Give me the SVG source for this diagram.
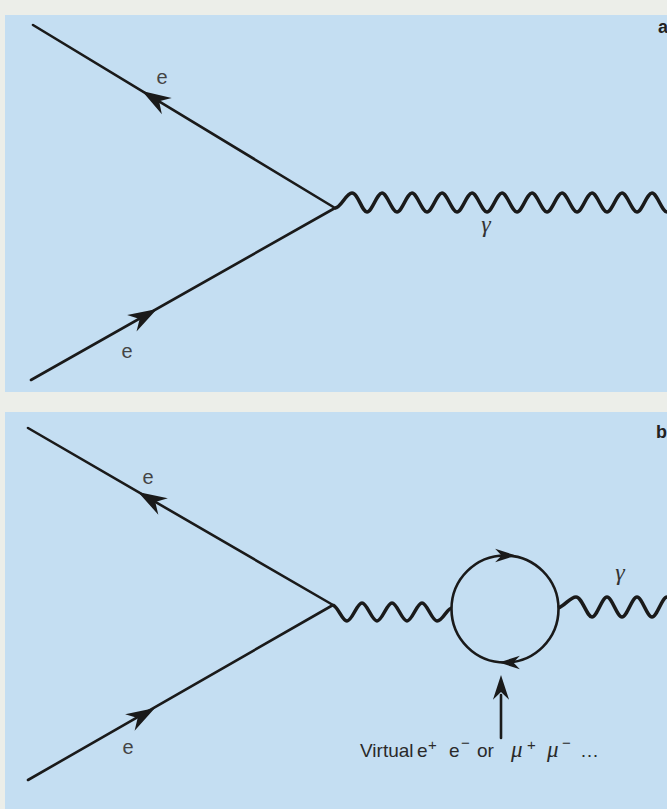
<svg xmlns="http://www.w3.org/2000/svg" xmlns:xlink="http://www.w3.org/1999/xlink" width="667" height="809" viewBox="0 0 667 809">
  <style>
    .panel { fill: #c4def2; }
    .line { stroke: #1a1a1a; stroke-width: 2.6; fill: none; stroke-linecap: round; }
    .wave { stroke: #1a1a1a; stroke-width: 3.6; fill: none; stroke-linejoin: round; }
    .ah { fill: #1a1a1a; }
    .lbl { font-family: "Liberation Sans", Arial, sans-serif; font-size: 20px; fill: #444; }
    .panlbl { font-family: "Liberation Sans", Arial, sans-serif; font-size: 18px; font-weight: bold; fill: #222; }
    .greek { font-family: "Liberation Serif", "Times New Roman", serif; font-style: italic; font-size: 24px; fill: #333; }
    .txt { font-family: "Liberation Sans", Arial, sans-serif; font-size: 19px; fill: #2a2a2a; }
    .sup { font-family: "Liberation Sans", Arial, sans-serif; font-size: 15px; fill: #2a2a2a; }
    .mu { font-family: "Liberation Serif", "Times New Roman", serif; font-style: italic; font-size: 23px; fill: #2a2a2a; }
  </style>
  <defs>
    <path id="ah" class="ah" d="M0,0 L-29,-9.5 L-20,0 L-29,9.5 Z"/>
  </defs>
  <rect x="0" y="0" width="667" height="809" fill="#eceee9"/>
  <rect class="panel" x="5" y="15" width="662" height="377"/>
  <rect class="panel" x="5" y="412" width="662" height="397"/>

  <g id="panel-a">
    <g id="a-label"><text class="panlbl" x="658" y="33">a</text></g>
    <g id="connectors-a">
      <line class="line" x1="33" y1="25" x2="335" y2="208"/>
      <line class="line" x1="31" y1="380" x2="335" y2="208"/>
      <use xlink:href="#ah" transform="translate(142,91) rotate(211.2)"/>
      <use xlink:href="#ah" transform="translate(157,309) rotate(-29.7)"/>
      <path class="wave" d="M335,208 C341,208 346,193 352,193 S362,212 367,212 S377,193 382,193 S392,212 397,212 S407,193 412,193 S422,212 427,212 S437,193 442,193 S452,212 457,212 S467,193 472,193 S482,212 487,212 S497,193 502,193 S512,212 517,212 S527,193 532,193 S542,212 547,212 S557,193 562,193 S572,212 577,212 S587,193 592,193 S602,212 607,212 S617,193 622,193 S632,212 637,212 S647,193 652,193 S662,212 667,212 S677,193 682,193"/>
    </g>
    <g id="a-e-out"><text class="lbl" x="162" y="84" text-anchor="middle">e</text></g>
    <g id="a-e-in"><text class="lbl" x="127" y="358" text-anchor="middle">e</text></g>
    <g id="a-gamma"><text class="greek" x="486" y="232" text-anchor="middle">γ</text></g>
  </g>

  <g id="panel-b">
    <g id="b-label"><text class="panlbl" x="656" y="438">b</text></g>
    <g id="connectors-b">
      <line class="line" x1="28" y1="428" x2="333" y2="605"/>
      <line class="line" x1="28" y1="780" x2="333" y2="605"/>
      <use xlink:href="#ah" transform="translate(138,492) rotate(210.1)"/>
      <use xlink:href="#ah" transform="translate(155,708) rotate(-29.9)"/>
      <path class="wave" d="M333,605 C339,608 342,621 347,621 S357,603 362,603 S372,621 377,621 S387,603 392,603 S402,621 407,621 S417,603 422,603 S432,621 437,621 C443,621 447,608 452,608"/>
      <path class="wave" d="M558,608 C565,606 570,597 576,597 S587,617 592,617 S602,597 607,597 S617,617 622,617 S632,597 637,597 S647,617 652,617 S662,597 667,597 S677,617 682,617"/>
    </g>
    <g id="loop">
      <circle class="line" cx="505" cy="609" r="53.5"/>
      <use xlink:href="#ah" transform="translate(516,555.5) scale(0.72)"/>
      <use xlink:href="#ah" transform="translate(499,662.5) rotate(180) scale(0.72)"/>
    </g>
    <g id="pointer">
      <line class="line" x1="501" y1="695" x2="501" y2="738"/>
      <use xlink:href="#ah" transform="translate(501,675) rotate(-90) scale(0.85)"/>
    </g>
    <g id="b-e-out"><text class="lbl" x="148" y="484" text-anchor="middle">e</text></g>
    <g id="b-e-in"><text class="lbl" x="128" y="754" text-anchor="middle">e</text></g>
    <g id="b-gamma"><text class="greek" x="620" y="580" text-anchor="middle">γ</text></g>
    <g id="virtual-label">
      <text class="txt" x="360" y="757">Virtual</text>
      <text class="txt" x="417" y="757">e</text>
      <text class="sup" x="428" y="750">+</text>
      <text class="txt" x="449" y="757">e</text>
      <text class="sup" x="461" y="748">−</text>
      <text class="txt" x="477" y="757">or</text>
      <text class="mu" x="511" y="757">μ</text>
      <text class="sup" x="527" y="750">+</text>
      <text class="mu" x="547" y="757">μ</text>
      <text class="sup" x="562" y="748">−</text>
      <text class="txt" x="580" y="757">…</text>
    </g>
  </g>
</svg>
